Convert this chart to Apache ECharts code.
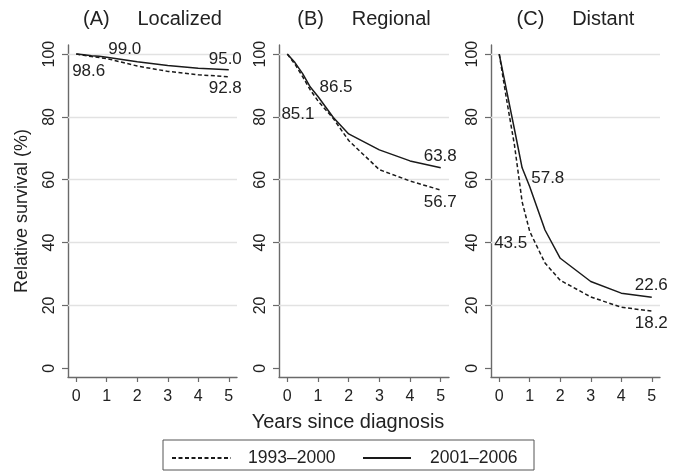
<!DOCTYPE html>
<html>
<head>
<meta charset="utf-8">
<script src="https://cdn.jsdelivr.net/npm/echarts@6/dist/echarts.min.js"></script>
<style>
  html, body { margin: 0; padding: 0; background: #fff; }
  #chart { width: 683px; height: 471px; }
</style>
</head>
<body>
<div id="chart"></div>
<script>
// ---- data ----
const years = [0, 0.25, 0.5, 0.75, 1, 1.5, 2, 3, 4, 5];
const panelTitles = ['(A)     Localized', '(B)     Regional', '(C)     Distant'];
const seriesNames = ['1993\u20132000', '2001\u20132006'];
const localized1993 = [100, 99.6, 99.2, 98.9, 98.6, 97.4, 96.2, 94.5, 93.4, 92.8];
const localized2001 = [100, 99.8, 99.5, 99.3, 99.0, 98.3, 97.6, 96.4, 95.5, 95.0];
const regional1993 = [100, 96.8, 92.8, 88.6, 85.1, 79.5, 72.5, 63.2, 59.6, 56.7];
const regional2001 = [100, 97.3, 93.8, 89.5, 86.5, 79.8, 74.6, 69.5, 66.0, 63.8];
const distant1993 = [100, 85, 71, 53, 43.5, 33.5, 28, 22.7, 19.4, 18.2];
const distant2001 = [100, 88, 76, 63.8, 57.8, 44, 35, 27.6, 23.9, 22.6];
const xTicks = [0, 1, 2, 3, 4, 5];
const yTicks = [0, 20, 40, 60, 80, 100];
const gridLineValues = [20, 40, 60, 80, 100];
const labelYears = [1, 5];
const xAxisTitle = 'Years since diagnosis';
const yAxisTitle = 'Relative survival (%)';

// ---- layout / style ----
const panels = [
  { d93: localized1993, d01: localized2001, left: 68, width: 169,
    place: { s1: [2, -7, 'left'], d1: [-1, 13, 'right'], s5: [-3, -10, 'center'], d5: [-3, 12, 'center'] } },
  { d93: regional1993, d01: regional2001, left: 279, width: 170,
    place: { s1: [2, -9, 'left'], d1: [-3, 14, 'right'], s5: [0, -11, 'center'], d5: [0, 13, 'center'] } },
  { d93: distant1993, d01: distant2001, left: 491, width: 169,
    place: { s1: [2, -8, 'left'], d1: [-2, 12, 'right'], s5: [0, -11, 'center'], d5: [0, 13, 'center'] } }
];
const TOP = 45, HEIGHT = 332;
const TXT = '#222222';
const AXC = '#6a6a6a';
const FONT = 'Liberation Sans, Arial, sans-serif';
const DASH = [4, 2.5];

const grid = [], xAxis = [], yAxis = [], series = [], title = [];

panels.forEach((p, i) => {
  grid.push({ left: p.left, top: TOP, width: p.width, height: HEIGHT, containLabel: false });
  xAxis.push({
    type: 'value', gridIndex: i, min: -0.27, max: 5.27,
    axisLine: { show: true, onZero: false, lineStyle: { color: AXC, width: 1.4 } },
    axisTick: { show: true, customValues: xTicks, length: 5, lineStyle: { color: AXC, width: 1.2 } },
    axisLabel: { show: true, customValues: xTicks, fontSize: 16, margin: 12, color: TXT, fontFamily: FONT },
    splitLine: { show: false }
  });
  yAxis.push({
    type: 'value', gridIndex: i, min: -2.8, max: 102.9,
    axisLine: { show: true, onZero: false, lineStyle: { color: AXC, width: 1.4 } },
    axisTick: { show: true, customValues: yTicks, length: 6, lineStyle: { color: AXC, width: 1.2 } },
    axisLabel: { show: true, customValues: yTicks, rotate: 90, fontSize: 16, margin: 10, color: TXT, fontFamily: FONT },
    splitLine: { show: false },
    name: i === 0 ? yAxisTitle : '',
    nameLocation: 'middle', nameGap: 37,
    nameTextStyle: { fontSize: 18, color: TXT, fontFamily: FONT }
  });
  title.push({
    text: panelTitles[i], left: p.left + p.width / 2, top: 9, textAlign: 'center', padding: 0,
    textStyle: { fontSize: 20, fontWeight: 'normal', color: TXT, fontFamily: FONT }
  });
  const toPts = arr => years.map((y, k) => [y, arr[k]]);
  // gridlines helper (invisible line carrying the horizontal grid lines)
  series.push({
    name: 'grid' + i, type: 'line', xAxisIndex: i, yAxisIndex: i, data: toPts(p.d01),
    symbol: 'none', lineStyle: { width: 0, color: 'rgba(0,0,0,0)' }, z: 1, silent: true,
    markLine: {
      z: 1,
      silent: true, symbol: ['none', 'none'], label: { show: false },
      lineStyle: { color: '#e2e2e2', width: 1.3, type: 'solid', opacity: 1 },
      emphasis: { disabled: true },
      data: gridLineValues.map(v => ({ yAxis: v })), animation: false
    }
  });
  series.push({
    name: seriesNames[0], type: 'line', xAxisIndex: i, yAxisIndex: i, data: toPts(p.d93),
    symbol: 'none', z: 4, lineStyle: { color: '#1a1a1a', width: 1.5, type: DASH }, itemStyle: { color: '#1a1a1a' }
  });
  series.push({
    name: seriesNames[1], type: 'line', xAxisIndex: i, yAxisIndex: i, data: toPts(p.d01),
    symbol: 'none', z: 4, lineStyle: { color: '#1a1a1a', width: 1.5, type: 'solid' }, itemStyle: { color: '#1a1a1a' }
  });
  // value labels at years 1 and 5
  const lbl = [];
  labelYears.forEach(yr => {
    const k = years.indexOf(yr);
    [['s', p.d01], ['d', p.d93]].forEach(([key, arr]) => {
      const pl = p.place[key + yr];
      lbl.push({
        value: [yr, arr[k]],
        label: {
          show: true, formatter: arr[k].toFixed(1), position: [pl[0], pl[1]],
          align: pl[2], verticalAlign: 'middle', fontSize: 17, color: TXT, fontFamily: FONT,
          opacity: 1, textBorderWidth: 0
        }
      });
    });
  });
  series.push({
    name: 'labels' + i, type: 'scatter', xAxisIndex: i, yAxisIndex: i, data: lbl,
    symbol: 'circle', symbolSize: 1, itemStyle: { color: 'rgba(0,0,0,0)', opacity: 1 }, z: 8, silent: true
  });
});

title.push({
  text: xAxisTitle, left: 348, top: 412, textAlign: 'center', padding: 0,
  textStyle: { fontSize: 20, fontWeight: 'normal', color: TXT, fontFamily: FONT }
});

const legendBase = {
  orient: 'horizontal', top: 449, padding: 0, itemHeight: 14,
  textStyle: { fontSize: 17.5, color: TXT, fontFamily: FONT },
  itemStyle: { opacity: 0, color: 'rgba(0,0,0,0)', borderWidth: 0 },
  selectedMode: false
};

const option = {
  animation: false,
  backgroundColor: '#fff',
  title,
  grid, xAxis, yAxis, series,
  legend: [
    Object.assign({}, legendBase, { data: [seriesNames[0]], left: 171, itemWidth: 59,
      textStyle: Object.assign({}, legendBase.textStyle, { padding: [0, 0, 0, 12] }) }),
    Object.assign({}, legendBase, { data: [seriesNames[1]], left: 362, itemWidth: 48,
      textStyle: Object.assign({}, legendBase.textStyle, { padding: [0, 0, 0, 14] }) })
  ],
  graphic: [{
    type: 'rect', shape: { x: 163, y: 440, width: 371, height: 30 },
    style: { fill: 'none', stroke: '#555', lineWidth: 1 }, silent: true
  }]
};

const chart = echarts.init(document.getElementById('chart'), null, { renderer: 'canvas' });
chart.setOption(option);
</script>
</body>
</html>
